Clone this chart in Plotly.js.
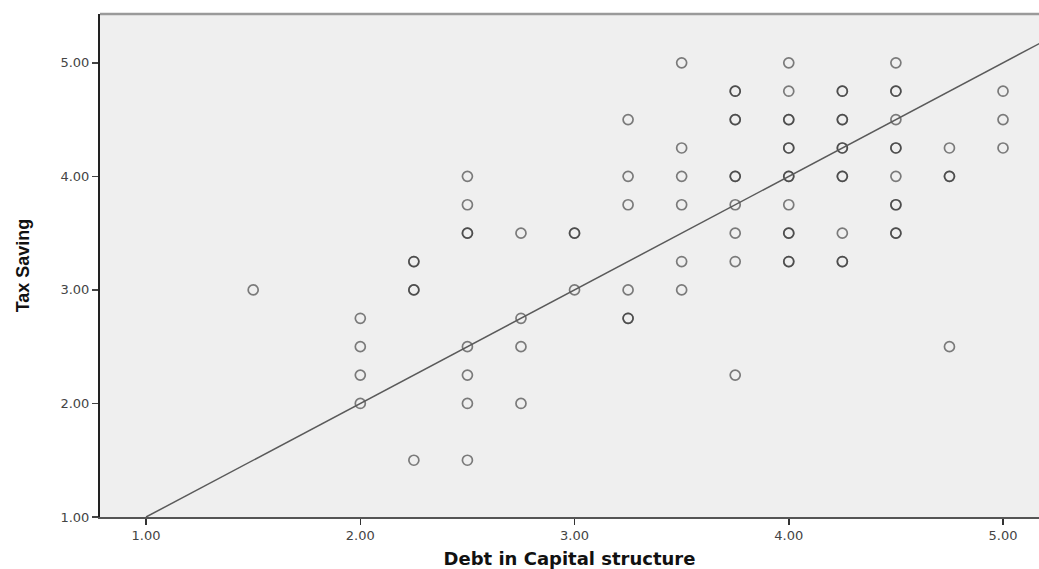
<!DOCTYPE html>
<html>
<head>
<meta charset="utf-8">
<script src="https://cdn.plot.ly/plotly-3.0.1.min.js"></script>
<style>html,body{margin:0;padding:0;background:#fff;}#chart{width:1039px;height:569px;}</style>
</head>
<body>
<div id="chart"></div>
<script>
// Observed points (duplicates = overlapping cases, drawn darker)
const debtX = [
  1.5,
  2.0, 2.0, 2.0, 2.0,
  2.25, 2.25, 2.25, 2.25, 2.25,
  2.5, 2.5, 2.5, 2.5, 2.5, 2.5, 2.5, 2.5,
  2.75, 2.75, 2.75, 2.75,
  3.0, 3.0, 3.0,
  3.25, 3.25, 3.25, 3.25, 3.25, 3.25,
  3.5, 3.5, 3.5, 3.5, 3.5, 3.5,
  3.75, 3.75, 3.75, 3.75, 3.75, 3.75, 3.75, 3.75, 3.75, 3.75,
  4.0, 4.0, 4.0, 4.0, 4.0, 4.0, 4.0, 4.0, 4.0, 4.0, 4.0, 4.0, 4.0,
  4.25, 4.25, 4.25, 4.25, 4.25, 4.25, 4.25, 4.25, 4.25, 4.25, 4.25,
  4.5, 4.5, 4.5, 4.5, 4.5, 4.5, 4.5, 4.5, 4.5, 4.5, 4.5,
  4.75, 4.75, 4.75, 4.75,
  5.0, 5.0, 5.0
];
const taxY = [
  3.0,
  2.75, 2.5, 2.25, 2.0,
  3.25, 3.25, 3.0, 3.0, 1.5,
  4.0, 3.75, 3.5, 3.5, 2.5, 2.25, 2.0, 1.5,
  3.5, 2.75, 2.5, 2.0,
  3.5, 3.5, 3.0,
  4.5, 4.0, 3.75, 3.0, 2.75, 2.75,
  5.0, 4.25, 4.0, 3.75, 3.25, 3.0,
  4.75, 4.75, 4.5, 4.5, 4.0, 4.0, 3.75, 3.5, 3.25, 2.25,
  5.0, 4.75, 4.5, 4.5, 4.25, 4.25, 4.0, 4.0, 3.75, 3.5, 3.5, 3.25, 3.25,
  4.75, 4.75, 4.5, 4.25, 4.25, 4.0, 4.0, 3.5, 3.25, 3.25, 4.5,
  5.0, 4.75, 4.75, 4.5, 4.25, 4.25, 4.0, 3.75, 3.75, 3.5, 3.5,
  4.25, 4.0, 4.0, 2.5,
  4.75, 4.5, 4.25
];
// Fit line (reference line)
const fitX = [1.0, 5.17];
const fitY = [1.0, 5.17];
const tickVals = [1, 2, 3, 4, 5];
const tickText = ["1.00", "2.00", "3.00", "4.00", "5.00"];

const traces = [
  {
    x: debtX, y: taxY, type: 'scatter', mode: 'markers',
    marker: {symbol: 'circle-open', size: 10, color: 'rgba(50,50,50,0.62)', line: {width: 1.7}},
    hoverinfo: 'x+y', showlegend: false, cliponaxis: false
  },
  {
    x: fitX, y: fitY, type: 'scatter', mode: 'lines',
    line: {color: '#5a5a5a', width: 1.5}, showlegend: false, hoverinfo: 'skip'
  }
];

const layout = {
  width: 1039, height: 569,
  margin: {l: 100, r: 0, t: 14, b: 52},
  paper_bgcolor: '#ffffff',
  plot_bgcolor: '#efefef',
  showlegend: false,
  xaxis: {
    range: [0.785, 5.168], showgrid: false, zeroline: false,
    showline: true, linecolor: '#555', linewidth: 1.5,
    ticks: 'outside', ticklen: 6, tickwidth: 1.5, tickcolor: '#333',
    tickvals: tickVals, ticktext: tickText,
    tickfont: {family: 'DejaVu Sans, Arial, sans-serif', size: 13, color: '#444'},
    title: {text: 'Debt in Capital structure', standoff: 10,
      font: {family: 'DejaVu Sans, Arial, sans-serif', size: 18, color: '#111', weight: 'bold'}}
  },
  yaxis: {
    range: [1.0, 5.43], showgrid: false, zeroline: false,
    showline: true, linecolor: '#222', linewidth: 2,
    ticks: 'outside', ticklen: 6, tickwidth: 1.5, tickcolor: '#444',
    tickvals: tickVals, ticktext: tickText,
    tickfont: {family: 'DejaVu Sans, Arial, sans-serif', size: 13, color: '#444'},
    title: {text: 'Tax Saving', standoff: 26,
      font: {family: 'Liberation Sans Narrow, Arial Narrow, Liberation Sans, sans-serif', size: 18, color: '#111', weight: 'bold'}}
  },
  shapes: [
    {type: 'line', xref: 'paper', yref: 'paper', x0: 0, x1: 1, y0: 1, y1: 1,
     line: {color: '#9a9a9a', width: 2.5}}
  ]
};

Plotly.newPlot('chart', traces, layout, {displayModeBar: false, staticPlot: true});
</script>
</body>
</html>
